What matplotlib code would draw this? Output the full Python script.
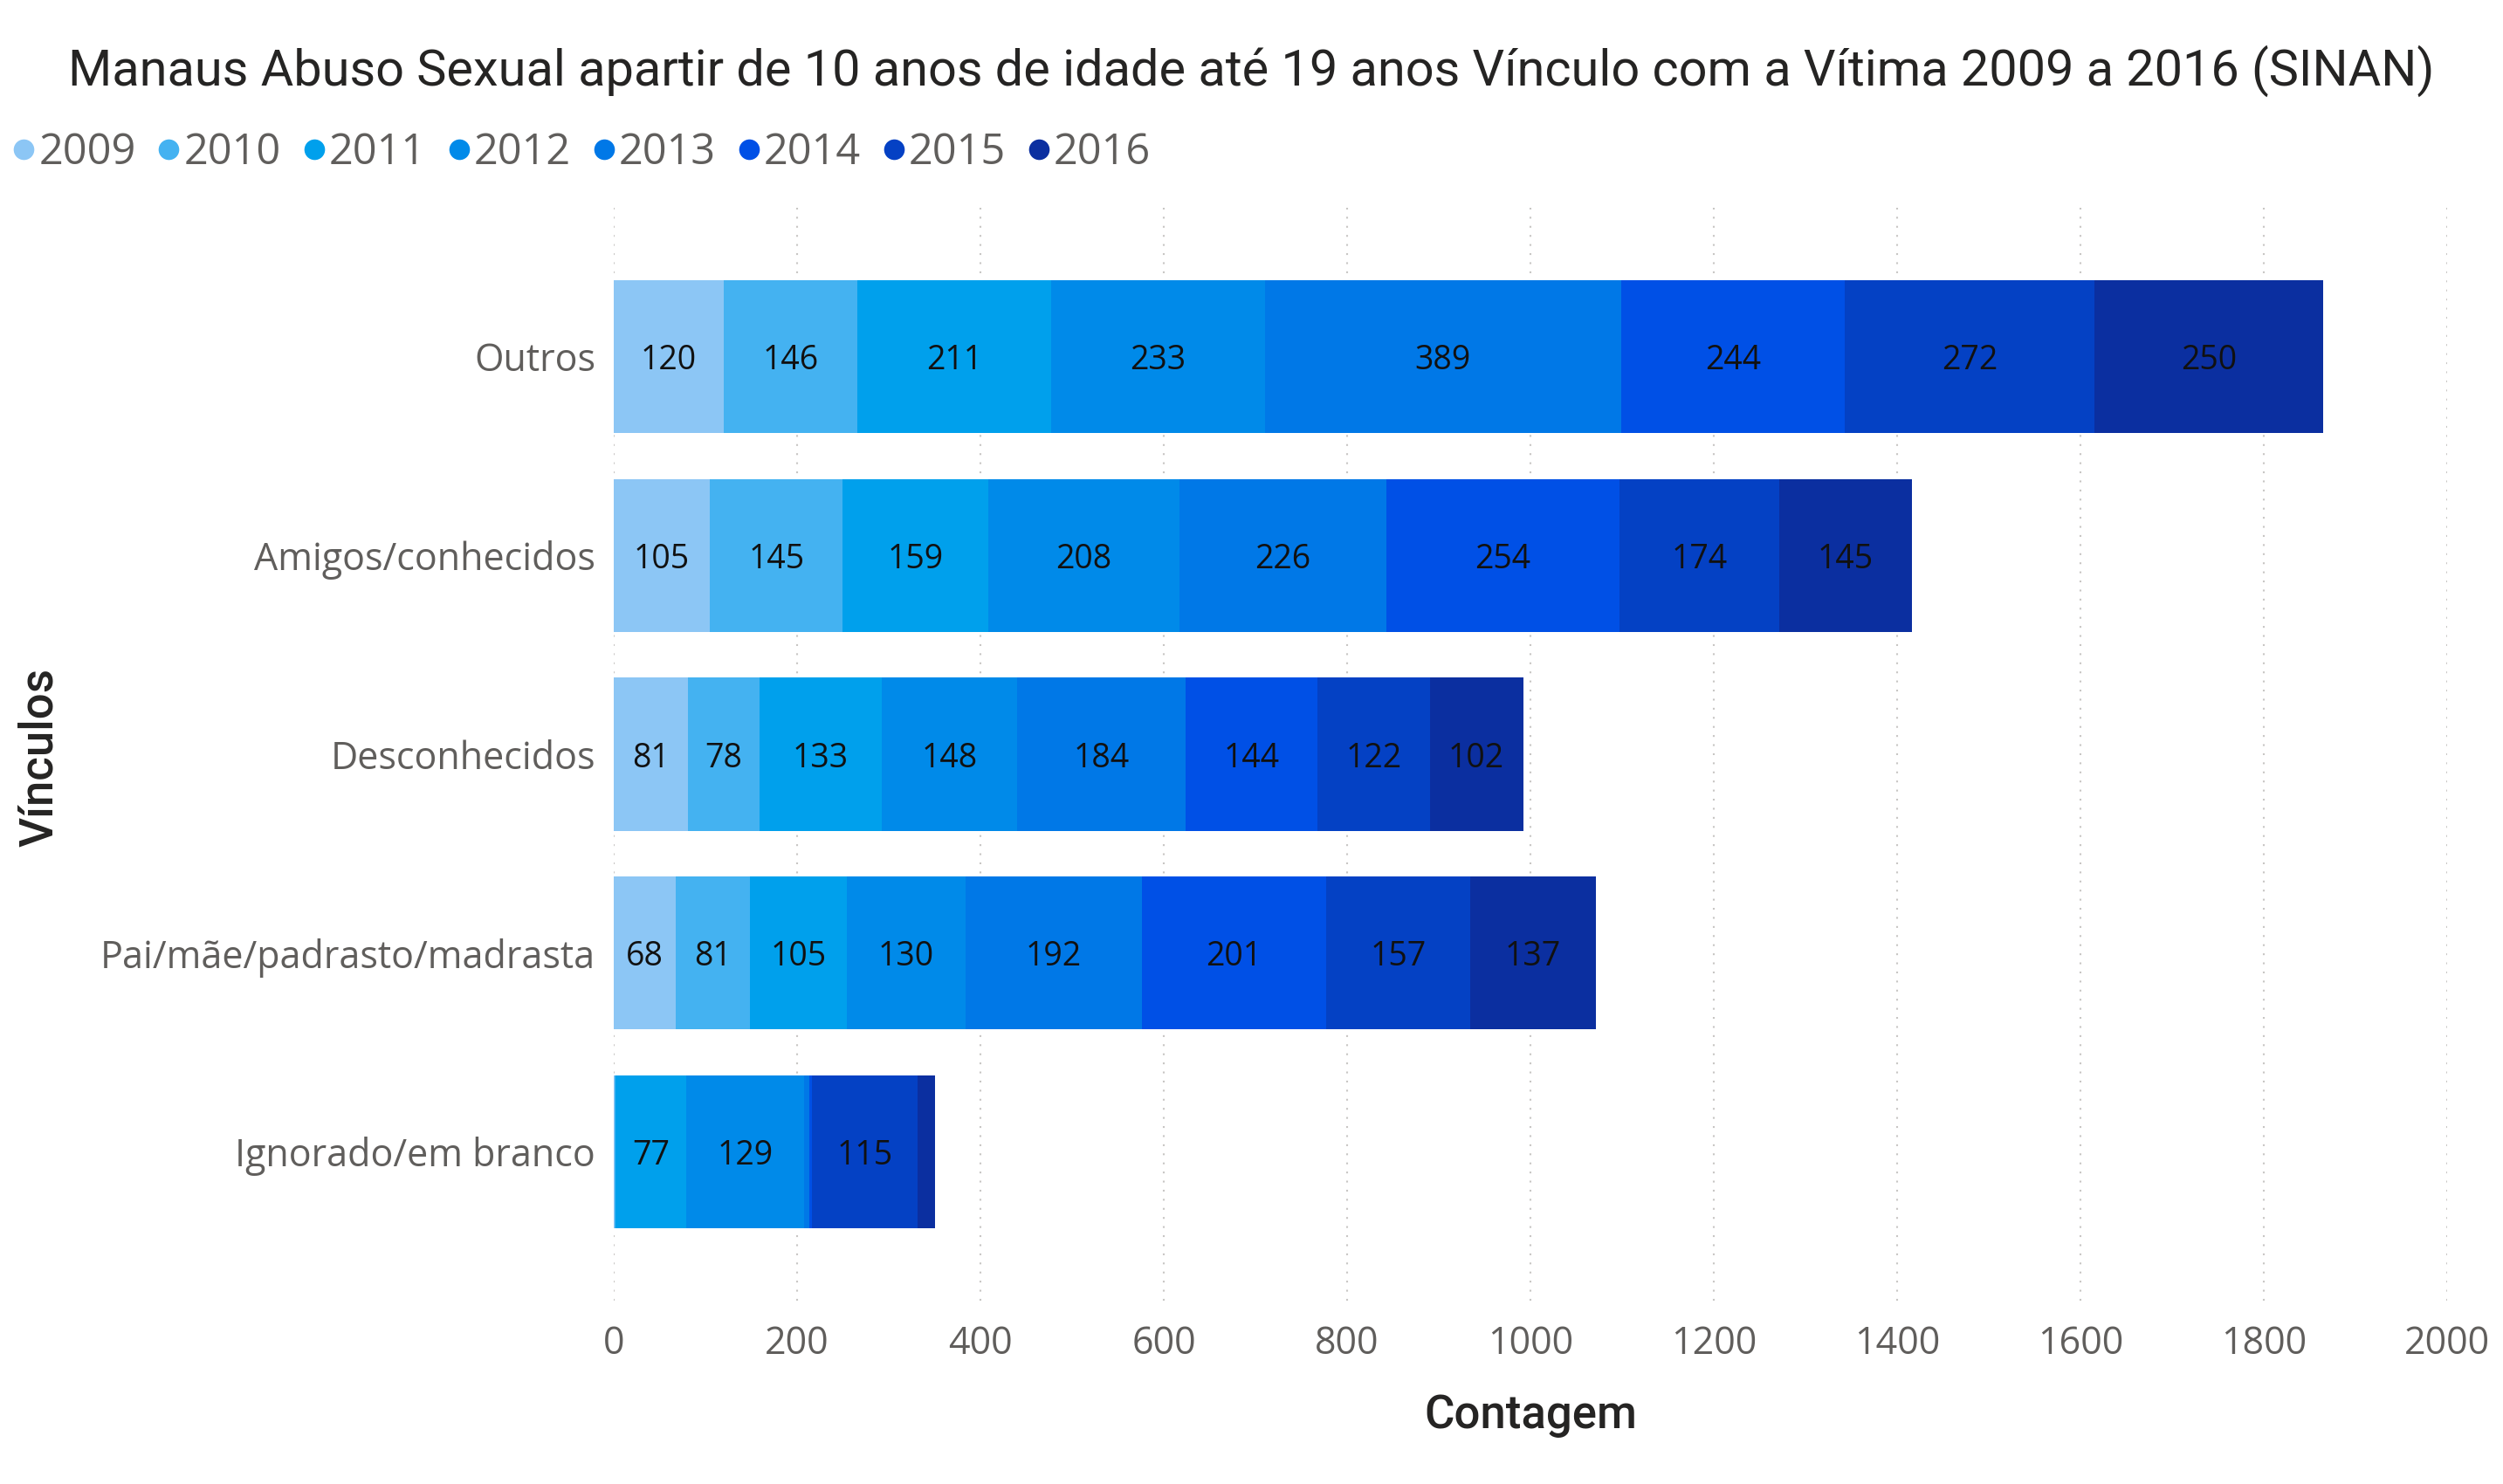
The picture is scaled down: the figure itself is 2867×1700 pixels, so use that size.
import numpy as np
import matplotlib.pyplot as plt
from matplotlib.lines import Line2D

# data
categorias = ["Outros", "Amigos/conhecidos", "Desconhecidos",
              "Pai/mãe/padrasto/madrasta", "Ignorado/em branco"]
anos = ["2009", "2010", "2011", "2012", "2013", "2014", "2015", "2016"]

v_outros = [120, 146, 211, 233, 389, 244, 272, 250]
v_amigos = [105, 145, 159, 208, 226, 254, 174, 145]
v_descon = [81, 78, 133, 148, 184, 144, 122, 102]
v_pais = [68, 81, 105, 130, 192, 201, 157, 137]
v_ignorado = [1, 1, 77, 129, 5, 3, 115, 19]

cores = ["#8CC6F5", "#44B2F1", "#00A0EC", "#008AE9",
         "#0078E7", "#0050E6", "#0441C4", "#0B2FA0"]

valores = np.array([v_outros, v_amigos, v_descon, v_pais, v_ignorado])

# fonts
plt.rcParams["font.family"] = "Open Sans"
titulo_font = "Roboto"

fig = plt.figure(figsize=(28.67, 17), dpi=100)
ax = fig.add_axes([0.2452, 0.1235, 0.7325, 0.7365])

y = np.arange(len(categorias))
esq = np.zeros(len(categorias))
for i, ano in enumerate(anos):
    col = valores[:, i]
    ax.barh(y, col, left=esq, height=0.77, color=cores[i], linewidth=0, zorder=2)
    for j in range(len(categorias)):
        if col[j] >= 30:
            ax.text(esq[j] + col[j] / 2, y[j], str(col[j]), ha="center", va="center_baseline",
                    fontsize=27, color="#111111", zorder=3)
    esq += col

ax.set_xlim(0, 2000)
ax.set_ylim(4.75, -0.75)
ax.set_xticks(np.arange(0, 2001, 200))
ax.set_yticks(y)
ax.set_yticklabels(categorias)
ax.tick_params(axis="y", length=0, pad=15, labelsize=31, labelcolor="#605E5C")
ax.tick_params(axis="x", length=0, pad=20, labelsize=31, labelcolor="#605E5C")
for s in ax.spines.values():
    s.set_visible(False)
ax.grid(axis="x", linestyle=(0, (1, 4)), color="#C8C6C4", linewidth=1.5, zorder=0)

ax.set_xlabel("Contagem", fontsize=38, family=titulo_font, weight="medium",
              color="#252423", labelpad=24)
fig.text(0.016, 0.49, "Vínculos", rotation=90, ha="center", va="center",
         fontsize=38, family=titulo_font, weight="medium", color="#252423")

fig.suptitle("Manaus Abuso Sexual apartir de 10 anos de idade até 19 anos Vínculo com a Vítima 2009 a 2016 (SINAN)",
             x=0.5, y=0.952, va="center", fontsize=41.5, family=titulo_font, color="#252423")

# legend
alcas = [Line2D([], [], marker="o", linestyle="", markersize=17,
                markerfacecolor=c, markeredgewidth=0) for c in cores]
leg = fig.legend(alcas, anos, loc="center left", bbox_to_anchor=(0.001, 0.897),
                 ncol=8, frameon=False, fontsize=35, handletextpad=-0.15,
                 columnspacing=0.28, handlelength=1.0, borderpad=0, borderaxespad=0,
                 labelcolor="#605E5C")

fig.savefig("out.png", dpi=100)
